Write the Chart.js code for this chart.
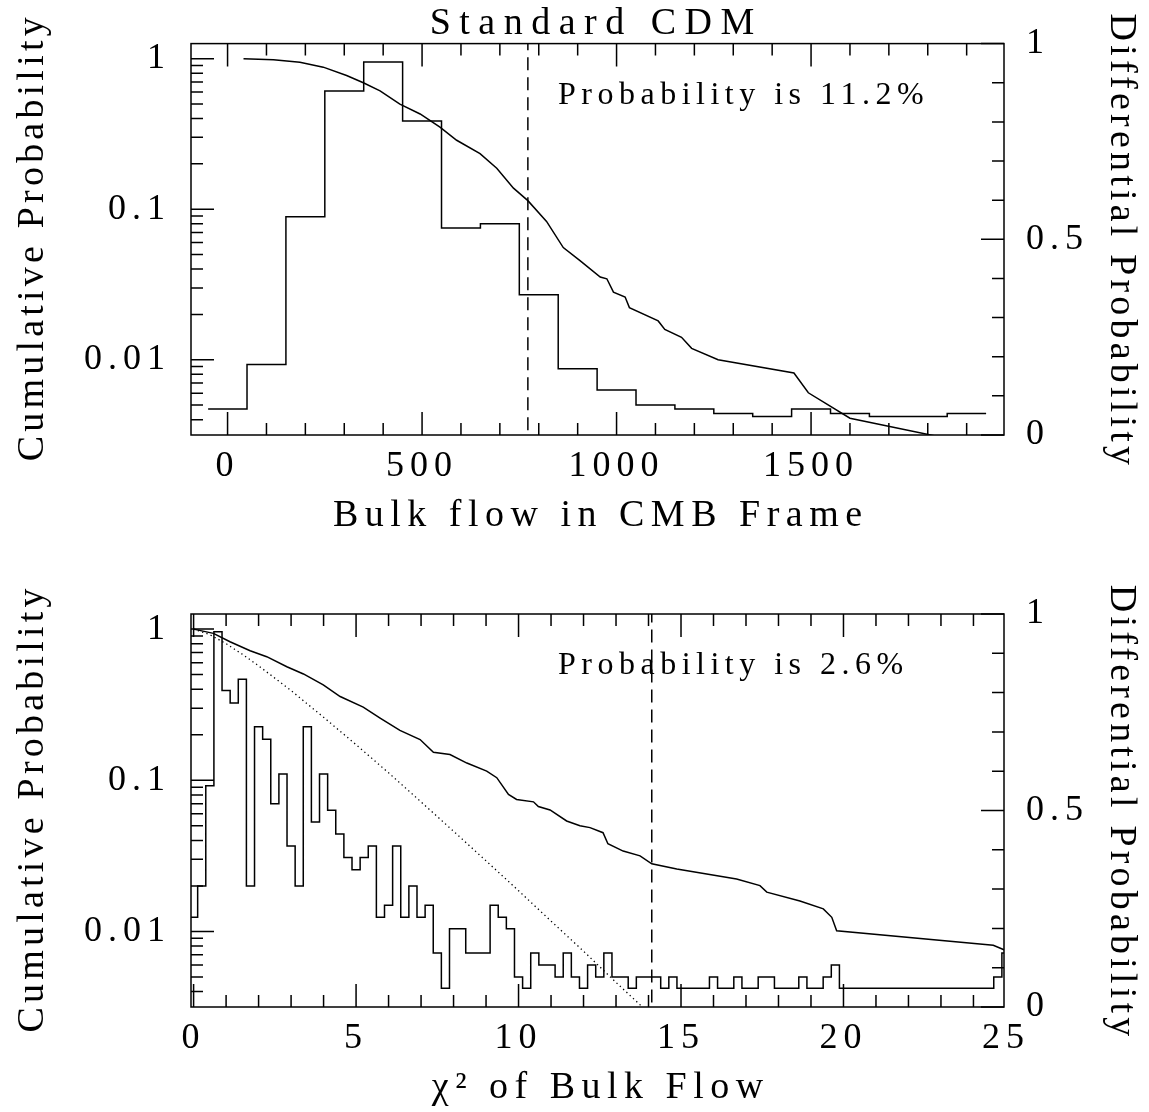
<!DOCTYPE html>
<html lang="en">
<head>
<meta charset="UTF-8">
<title>Standard CDM - bulk flow probabilities</title>
<script src="https://cdn.jsdelivr.net/npm/chart.js"></script>
<style>
  body { margin: 0; background: #fff; }
  .panel { position: absolute; left: 0; width: 1149px; }
  #flowPanel { top: 0; height: 560px; }
  #chiPanel { top: 560px; height: 552px; }
</style>
</head>
<body>
<div class="panel" id="flowPanel"><canvas id="flowChart"></canvas></div>
<div class="panel" id="chiPanel"><canvas id="chiChart"></canvas></div>

<script>
// ---- top panel: bulk flow in CMB frame ----
const flowBins = [0, 100, 200, 300, 400, 500, 600, 700, 800, 900,
                  1000, 1100, 1200, 1300, 1400, 1500, 1600, 1700, 1800, 1900];
const flowHist = [0.0047, 0.0093, 0.089, 0.61, 0.95, 0.386, 0.075, 0.080, 0.027, 0.0087,
                  0.0063, 0.0050, 0.0047, 0.0044, 0.0042, 0.0047, 0.0044, 0.0042, 0.0042, 0.0044];
const flowCumX = [41, 118, 186, 246, 306, 349, 392, 443, 495, 546, 589, 649, 692, 735, 772,
                  820, 863, 906, 958, 975, 992, 1022, 1033, 1107, 1124, 1167, 1193, 1261,
                  1456, 1493, 1600, 1850];
const flowCumY = [1.0, 0.985, 0.947, 0.878, 0.773, 0.692, 0.611, 0.499, 0.429, 0.351, 0.287,
                  0.234, 0.187, 0.138, 0.114, 0.083, 0.0556, 0.0455, 0.0354, 0.0345, 0.0281,
                  0.0261, 0.0222, 0.0181, 0.0159, 0.0141, 0.0119, 0.0100, 0.00817, 0.00603,
                  0.00409, 0.0030];
const flowCut = 772;
const flowTicks = [0, 500, 1000, 1500];

// ---- bottom panel: chi^2 of bulk flow ----
const chiBins = [
  0, 0.25, 0.5, 0.75, 1, 1.25, 1.5, 1.75, 2, 2.25, 2.5, 2.75, 3, 3.25, 3.5, 3.75,
  4, 4.25, 4.5, 4.75, 5, 5.25, 5.5, 5.75, 6, 6.25, 6.5, 6.75, 7, 7.25, 7.5, 7.75,
  8, 8.25, 8.5, 8.75, 9, 9.25, 9.5, 9.75, 10, 10.25, 10.5, 10.75, 11, 11.25, 11.5, 11.75,
  12, 12.25, 12.5, 12.75, 13, 13.25, 13.5, 13.75, 14, 14.25, 14.5, 14.75, 15, 15.25, 15.5, 15.75,
  16, 16.25, 16.5, 16.75, 17, 17.25, 17.5, 17.75, 18, 18.25, 18.5, 18.75, 19, 19.25, 19.5, 19.75,
  20, 20.25, 20.5, 20.75, 21, 21.25, 21.5, 21.75, 22, 22.25, 22.5, 22.75, 23, 23.25, 23.5, 23.75,
  24, 24.25, 24.5, 24.75, 25];
const chiHist = [
  0.0124, 0.020, 0.092, 0.96, 0.392, 0.324, 0.466, 0.020, 0.226, 0.187, 0.070, 0.110, 0.0367, 0.020, 0.226, 0.0529,
  0.110, 0.0634, 0.0441, 0.0308, 0.0256, 0.0308, 0.0367, 0.0124, 0.0149, 0.0367, 0.0124, 0.020, 0.0124, 0.0149, 0.0072, 0.0042,
  0.0104, 0.0104, 0.0072, 0.0072, 0.0072, 0.0149, 0.0124, 0.0104, 0.0050, 0.0042, 0.0072, 0.0060, 0.0060, 0.0050, 0.0072, 0.0050,
  0.0042, 0.0060, 0.0050, 0.0072, 0.0050, 0.0050, 0.0042, 0.0050, 0.0050, 0.0050, 0.0042, 0.0050, 0.0042, 0.0042, 0.0042, 0.0042,
  0.0050, 0.0042, 0.0042, 0.0050, 0.0042, 0.0042, 0.0050, 0.0050, 0.0042, 0.0042, 0.0042, 0.0050, 0.0042, 0.0042, 0.0050, 0.0060,
  0.0042, 0.0042, 0.0042, 0.0042, 0.0042, 0.0042, 0.0042, 0.0042, 0.0042, 0.0042, 0.0042, 0.0042, 0.0042, 0.0042, 0.0042, 0.0042,
  0.0042, 0.0042, 0.0042, 0.0050, 0.0072];
const chiCumX = [0, 0.61, 1.12, 1.74, 2.25, 2.87, 3.38, 3.99, 4.51, 5.22, 5.74, 6.35, 6.97, 7.38,
                 7.89, 8.41, 9.02, 9.33, 9.69, 9.94, 10.46, 10.61, 10.97, 11.48, 11.89, 12.20,
                 12.60, 12.75, 13.22, 13.74, 14.10, 14.87, 16.71, 17.43, 17.64, 18.66, 19.38,
                 19.64, 19.79, 24.61, 24.92, 25.1];
const chiCumY = [1.0, 0.937, 0.825, 0.72, 0.657, 0.564, 0.505, 0.428, 0.358, 0.305, 0.258, 0.214,
                 0.186, 0.153, 0.148, 0.130, 0.115, 0.104, 0.0805, 0.0747, 0.072, 0.067, 0.0636,
                 0.0538, 0.050, 0.0486, 0.045, 0.038, 0.034, 0.0316, 0.028, 0.0259, 0.0222,
                 0.0201, 0.0182, 0.0159, 0.0141, 0.0124, 0.0101, 0.0081, 0.0076, 0.0072];
// expected curve (dotted)
const chiExpX = [0, 0.5, 1, 1.5, 2, 3, 4, 5, 6, 7, 8, 9, 10, 11, 12, 13, 14, 15];
const chiExpY = [1, 0.919, 0.801, 0.682, 0.572, 0.392, 0.261, 0.172, 0.112, 0.0719, 0.046,
                 0.0293, 0.0186, 0.0117, 0.0074, 0.0046, 0.0029, 0.0018];
const chiCut = 14.1;
const chiTicks = [0, 5, 10, 15, 20, 25];

const cumTicks = [0.01, 0.1, 1];
const diffTicks = [0, 0.5, 1];

const ink = '#000';
const serif = '"Liberation Serif", "DejaVu Serif", serif';

function zip(xs, ys) { return xs.map((x, i) => ({ x: x, y: ys[i] })); }

// bin centres -> step outline covering the full width of the end bins
function stepData(centers, values) {
  const half = (centers[1] - centers[0]) / 2;
  const pts = zip(centers, values);
  pts.unshift({ x: centers[0] - half, y: values[0] });
  pts.push({ x: centers[centers.length - 1] + half, y: values[values.length - 1] });
  return pts;
}

function drawText(ctx, str, x, y, size, spacing, align, baseline, rot) {
  ctx.save();
  ctx.font = size + 'px ' + serif;
  ctx.letterSpacing = spacing + 'px';
  ctx.fillStyle = ink;
  ctx.textAlign = align;
  ctx.textBaseline = baseline;
  ctx.translate(x, y);
  if (rot) ctx.rotate(rot);
  ctx.fillText(str, align === 'center' ? spacing / 2 : 0, 0);
  ctx.restore();
}

// box, inward ticks on all four sides, and the texts
const paperFrame = {
  id: 'paperFrame',
  beforeDraw(chart) {
    chart.ctx.letterSpacing = '6px';
  },
  afterDatasetsDraw(chart, args, o) {
    const ctx = chart.ctx, a = chart.chartArea;
    const sx = chart.scales.x, sy = chart.scales.y, sy2 = chart.scales.y2;
    ctx.save();
    ctx.letterSpacing = '0px';
    ctx.strokeStyle = ink;
    ctx.lineWidth = 1.5;
    ctx.strokeRect(a.left, a.top, a.right - a.left, a.bottom - a.top);
    ctx.beginPath();
    const seg = (x1, y1, x2, y2) => { ctx.moveTo(x1, y1); ctx.lineTo(x2, y2); };
    for (let i = Math.ceil(sx.min / o.minor); i * o.minor <= sx.max; i++) {
      const px = sx.getPixelForValue(i * o.minor);
      const len = (i % o.perMajor === 0) ? 23 : 12;
      seg(px, a.bottom, px, a.bottom - len);
      seg(px, a.top, px, a.top + len);
    }
    for (let d = -3; d <= 0; d++) {
      for (let m = 1; m <= 9; m++) {
        const v = m * Math.pow(10, d);
        if (v < sy.min || v > sy.max) continue;
        const py = sy.getPixelForValue(v);
        seg(a.left, py, a.left + (m === 1 ? 23 : 12), py);
      }
    }
    for (let k = 0; k <= 10; k++) {
      const py = sy2.getPixelForValue(k / 10);
      seg(a.right, py, a.right - (k % 5 === 0 ? 23 : 12), py);
    }
    ctx.stroke();
    ctx.restore();
  },
  afterDraw(chart, args, o) {
    const ctx = chart.ctx, a = chart.chartArea;
    const midY = (a.top + a.bottom) / 2;
    const midX = (a.left + a.right) / 2;
    if (o.title) drawText(ctx, o.title, 592, 34, 38, 8.5, 'center', 'alphabetic');
    drawText(ctx, o.note, 558, a.top + 60, 32, 5.5, 'left', 'alphabetic');
    drawText(ctx, o.xTitle, midX, a.bottom + 91, 38, 6.5, 'center', 'alphabetic');
    drawText(ctx, 'Cumulative Probability', 33, midY, 38, 4.2, 'center', 'middle', -Math.PI / 2);
    drawText(ctx, 'Differential Probability', 1121, midY, 38, 4.2, 'center', 'middle', Math.PI / 2);
  }
};

function makePanel(id, cfg) {
  const tickFont = { family: serif, size: 36 };
  const common = { grid: { display: false, drawTicks: false }, border: { display: false } };
  new Chart(document.getElementById(id), {
    type: 'line',
    data: {
      datasets: [
        { data: stepData(cfg.bins, cfg.hist), stepped: 'middle' },
        { data: zip(cfg.cumX, cfg.cumY) },
        cfg.expX ? { data: zip(cfg.expX, cfg.expY), borderDash: [1.3, 3.2], borderWidth: 1.3 } : null,
        { data: [{ x: cfg.cut, y: 0.001 }, { x: cfg.cut, y: 10 }], borderDash: [13, 7] }
      ].filter(Boolean).map(ds => Object.assign({
        borderColor: ink, borderWidth: 1.5, pointRadius: 0, fill: false,
        tension: 0, xAxisID: 'x', yAxisID: 'y'
      }, ds))
    },
    options: {
      responsive: true,
      maintainAspectRatio: false,
      animation: false,
      events: [],
      layout: { padding: { top: cfg.padTop, left: 0, right: 0, bottom: 0 } },
      plugins: {
        legend: { display: false },
        tooltip: { enabled: false },
        paperFrame: { minor: cfg.minor, perMajor: cfg.perMajor, title: cfg.title, note: cfg.note, xTitle: cfg.xTitle }
      },
      scales: {
        x: Object.assign({
          type: 'linear', position: 'bottom', min: cfg.xMin, max: cfg.xMax,
          afterBuildTicks: s => { s.ticks = cfg.xTicks.map(v => ({ value: v })); },
          afterFit: s => { s.height = cfg.axisH; },
          ticks: { font: tickFont, color: ink, padding: 10, maxRotation: 0, autoSkip: false,
                   callback: v => String(v) }
        }, common),
        y: Object.assign({
          type: 'logarithmic', position: 'left', min: 0.0031623, max: 1.2589,
          afterBuildTicks: s => { s.ticks = cumTicks.map(v => ({ value: v })); },
          afterFit: s => { s.width = 191; },
          ticks: { font: tickFont, color: ink, padding: 20, autoSkip: false,
                   callback: v => String(v) }
        }, common),
        y2: Object.assign({
          type: 'linear', position: 'right', min: 0, max: 1, display: true,
          afterBuildTicks: s => { s.ticks = diffTicks.map(v => ({ value: v })); },
          afterFit: s => { s.width = 145; },
          ticks: { font: tickFont, color: ink, padding: 22, autoSkip: false,
                   callback: v => String(v) }
        }, common)
      }
    },
    plugins: [paperFrame]
  });
}

makePanel('flowChart', {
  bins: flowBins, hist: flowHist, cumX: flowCumX, cumY: flowCumY, cut: flowCut,
  xMin: -94, xMax: 1996, xTicks: flowTicks, minor: 100, perMajor: 5,
  padTop: 41, axisH: 125,
  title: 'Standard CDM', note: 'Probability is 11.2%', xTitle: 'Bulk flow in CMB Frame'
});

makePanel('chiChart', {
  bins: chiBins, hist: chiHist, cumX: chiCumX, cumY: chiCumY, cut: chiCut,
  expX: chiExpX, expY: chiExpY,
  xMin: -0.08, xMax: 24.94, xTicks: chiTicks, minor: 1, perMajor: 5,
  padTop: 54, axisH: 105,
  note: 'Probability is 2.6%', xTitle: 'χ² of Bulk Flow'
});
</script>
</body>
</html>
